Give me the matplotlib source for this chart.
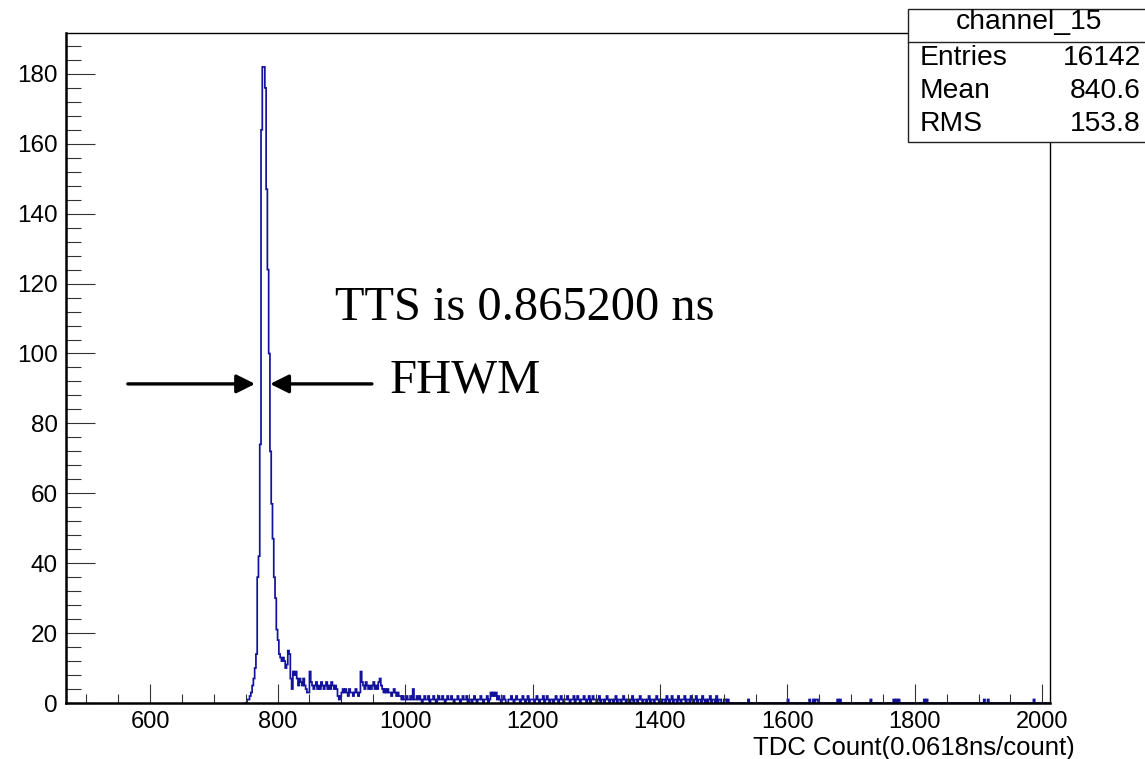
import numpy as np
import matplotlib
matplotlib.use("Agg")
import matplotlib.pyplot as plt
from matplotlib.patches import Rectangle
from matplotlib.lines import Line2D
from matplotlib.ticker import MultipleLocator

# histogram: 2-count bins starting at 748 (counts)
bin_start = 748
bin_width = 2
peak_counts = [
    0, 0, 1, 1, 2, 3, 5, 7, 10, 14,
    36, 42, 74, 164, 182, 182, 176, 147, 124, 100,
    72, 57, 47, 36, 30, 21, 18, 14, 13, 12,
    13, 12, 10, 11, 15, 14, 7, 4, 9, 8,
    9, 7, 5, 7, 6, 5, 7, 5, 4, 3,
    3, 9, 6, 5, 4, 5, 6, 4, 5, 4,
    6, 5, 4, 5, 6, 4, 5, 4, 6, 5,
    4, 5, 4, 2, 1, 2, 3, 4, 3, 4,
    3, 2, 4, 3, 3, 2, 3, 4, 3, 2,
    3, 9, 6, 5, 4, 6, 5, 4, 5, 4,
    5, 6, 4, 5, 4, 6, 7, 5, 4, 3,
    4, 3, 4, 3, 3, 2, 3, 4, 3, 2,
    3, 2, 2, 1, 2, 1,
]
# tail from 1000 on, one digit per bin, 100 counts per line
tail_counts = [
    "12112141121210121120112101211210121121011210121120",
    "11012101121011201323231210121001121012110121012011",
    "10121011201210110121012101121011201210112101201211",
    "01201101210110120110121011012011012101101201101210",
    "10110210120110210112011021012011021010120110201100",
    "11010000000000000001000000000000000000000000000000",
    "10000000000000000100101100000000000000010100000000",
    "00000000000000010000000000000000010101000000000000",
    "00000001010000000000000000000000000000000000000000",
    "00001001000000000000000000000000000000000001000000",
    "000000",
]

stats_title = "channel_15"
stats_names = ["Entries", "Mean", "RMS"]
stats_values = ["16142", "840.6", "153.8"]

x_label = "TDC Count(0.0618ns/count)"
tts_text = "TTS is 0.865200 ns"
fwhm_text = "FHWM"
fwhm_y = 91.3
fwhm_left, fwhm_right = 764.7, 788.3

counts = np.array(peak_counts + [int(c) for c in "".join(tail_counts)], dtype=float)
edges = bin_start + bin_width * np.arange(len(counts) + 1)

W, H = 1145, 759
fig = plt.figure(figsize=(W / 100, H / 100), dpi=100)
ax = fig.add_axes([66 / W, 1 - 703 / H, (1050 - 66) / W, (703 - 33) / H])

ax.stairs(counts, edges, color="#12129c", lw=1.25, baseline=0)

ax.set_xlim(468, 2012)
ax.set_ylim(0, 191.7)

sans = "Liberation Sans"
serif = "Liberation Serif"

ax.xaxis.set_major_locator(MultipleLocator(200))
ax.xaxis.set_minor_locator(MultipleLocator(50))
ax.yaxis.set_major_locator(MultipleLocator(20))
ax.yaxis.set_minor_locator(MultipleLocator(4))
ax.tick_params(axis="x", which="major", direction="in", length=13.5, width=0.8,
               color="#333333", pad=6, labelsize=17)
ax.tick_params(axis="x", which="minor", direction="in", length=6.5, width=0.8,
               color="#333333")
ax.tick_params(axis="y", which="major", direction="in", length=21, width=0.8,
               color="#333333", pad=6, labelsize=17.5)
ax.tick_params(axis="y", which="minor", direction="in", length=10.5, width=0.8,
               color="#333333")
for lab in ax.get_xticklabels() + ax.get_yticklabels():
    lab.set_fontfamily(sans)

for side in ("left", "bottom"):
    ax.spines[side].set_linewidth(1.8)
for side in ("top", "right"):
    ax.spines[side].set_linewidth(1.0)

fig.text(1075 / W, 1 - 748 / H, x_label, ha="right", va="center",
         fontsize=18.5, family=sans)

# annotation: TTS text and FWHM arrows
ax.text(890, 109.6, tts_text, family=serif, fontsize=34.8, va="baseline", ha="left")
ax.text(976, fwhm_y + 1, fwhm_text, family=serif, fontsize=35, va="center", ha="left")
arrow = dict(arrowstyle="-|>", lw=2.4, color="black", mutation_scale=28,
             shrinkA=0, shrinkB=0)
ax.annotate("", xy=(fwhm_left, fwhm_y), xytext=(565, fwhm_y), arrowprops=arrow)
ax.annotate("", xy=(fwhm_right, fwhm_y), xytext=(948, fwhm_y), arrowprops=arrow)

# stats box (ROOT style)
bx0, by0, by1 = 908, 9, 142
fig.add_artist(Rectangle((bx0 / W, 1 - by1 / H), (W - bx0 + 5) / W, (by1 - by0) / H,
                         transform=fig.transFigure, facecolor="white",
                         edgecolor="#222222", lw=1.0, zorder=5))
fig.add_artist(Line2D([bx0 / W, 1], [1 - 41.5 / H] * 2, transform=fig.transFigure,
                      color="#222222", lw=1.0, zorder=6))
fig.text((bx0 + W) / 2 / W + 0.002, 1 - 22 / H, stats_title, ha="center", va="center",
         fontsize=20.3, family=sans, zorder=7)
row_y = [58, 91.5, 124]
for name, val, ry in zip(stats_names, stats_values, row_y):
    fig.text(920 / W, 1 - ry / H, name, ha="left", va="center", fontsize=20.3,
             family=sans, zorder=7)
    fig.text(1141 / W, 1 - ry / H, val, ha="right", va="center", fontsize=20.3,
             family=sans, zorder=7)

fig.savefig("out.png", dpi=100)
